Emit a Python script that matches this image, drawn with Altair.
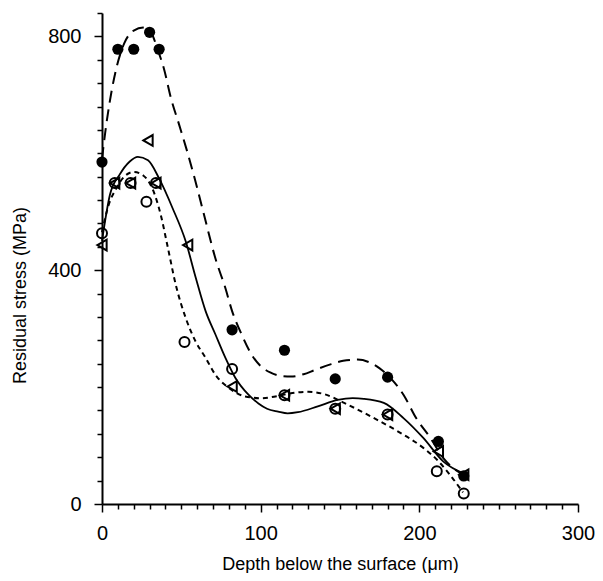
import altair as alt
import pandas as pd

# ---- measured points ----
fill_x = [0, 10, 20, 30, 36, 82, 115, 147, 180, 212, 228]
fill_y = [585, 778, 778, 807, 778, 298, 263, 214, 217, 107, 48]

tri_x = [0, 8, 18, 29, 34, 54, 82, 115, 147, 180, 212, 228]
tri_y = [443, 549, 549, 622, 549, 443, 201, 186, 163, 153, 90, 50]

open_x = [0, 8, 18, 28, 34, 52, 82, 115, 147, 180, 211, 228]
open_y = [463, 549, 549, 517, 549, 277, 231, 186, 163, 153, 56, 18]

# ---- fitted curves ----
long_x = [0, 2, 5, 9, 14, 20, 26, 31, 35, 39, 43.5, 48.6, 53.7, 59, 64, 71.5, 77.8, 82, 88, 94.4,
          100, 106, 113, 119, 127, 134, 143, 152, 161, 168, 175, 182, 190, 198, 207, 215, 222, 228]
long_y = [590, 635, 690, 745, 788, 810, 815, 806, 778, 745, 694, 649, 603, 551, 498, 420, 369, 330, 290, 255,
          236, 225, 219, 218, 222, 229, 238, 245, 247, 243, 232, 215, 187, 147, 113, 79, 60, 50]

solid_x = [0, 5, 11, 17.5, 22.6, 29, 36, 44.5, 52.8, 59, 65.3, 71.5, 77.8, 84, 92.3, 98.6, 104, 111, 117,
           123.5, 136, 148.5, 158, 165, 177.6, 190, 202.5, 215, 229]
solid_y = [450, 529, 563, 586, 594, 588, 557, 506, 449, 388, 330, 290, 250, 216, 187, 172, 163, 158, 155,
           157, 167, 178, 181, 180, 173, 147, 113, 73, 51]

short_x = [0, 4, 9, 14, 20, 26, 32, 37, 41.4, 46.5, 52.8, 59, 65.3, 71.5, 79.8, 90.3, 100, 113, 120, 130,
           140, 152.6, 169.3, 186, 202.5, 211, 219, 227.5]
short_y = [465, 510, 540, 560, 568, 562, 538, 495, 440, 375, 318, 278, 250, 221, 199, 184, 181, 186, 190, 192,
           188, 173, 150, 125, 96, 76, 51, 20]

x_ticks = list(range(0, 301, 10))
y_ticks = list(range(0, 841, 40))

FONT = "Liberation Sans"

x_axis = alt.Axis(
    values=x_ticks,
    labelExpr="datum.value % 100 === 0 ? datum.label : ''",
    tickSize={"condition": {"test": "datum.value % 100 === 0", "value": 8}, "value": 5},
    title="Depth below the surface (μm)",
    grid=False, labelFlush=False, labelOverlap=False,
    labelPadding=11, titleY=65, titleBaseline="alphabetic",
)
y_axis = alt.Axis(
    values=y_ticks,
    labelExpr="datum.value % 400 === 0 ? datum.label : ''",
    tickSize={"condition": {"test": "datum.value % 400 === 0", "value": 8}, "value": 5},
    title="Residual stress (MPa)",
    grid=False, labelOverlap=False,
    labelPadding=13, titleX=-82, titleY=282, titleBaseline="middle",
)

xs = alt.Scale(domain=[0, 300], nice=False, zero=False)
ys = alt.Scale(domain=[0, 840], nice=False, zero=False)


def enc(ch):
    return ch.encode(
        x=alt.X("x:Q", scale=xs, axis=x_axis),
        y=alt.Y("y:Q", scale=ys, axis=y_axis),
    )


def df(xv, yv):
    return pd.DataFrame({"x": xv, "y": yv})


long_line = enc(alt.Chart(df(long_x, long_y)).mark_line(
    color="black", strokeWidth=2, strokeDash=[12, 7], interpolate="monotone"))
solid_line = enc(alt.Chart(df(solid_x, solid_y)).mark_line(
    color="black", strokeWidth=1.8, interpolate="monotone"))
short_line = enc(alt.Chart(df(short_x, short_y)).mark_line(
    color="black", strokeWidth=2, strokeDash=[5, 4], interpolate="monotone"))

filled_pts = enc(alt.Chart(df(fill_x, fill_y)).mark_point(
    shape="circle", filled=True, color="black", size=125, opacity=1))
tri_pts = enc(alt.Chart(df(tri_x, tri_y)).mark_point(
    shape="triangle-left", filled=False, color="black", size=115, strokeWidth=2, opacity=1))
open_pts = enc(alt.Chart(df(open_x, open_y)).mark_point(
    shape="circle", filled=False, color="black", size=100, strokeWidth=2, opacity=1))

chart = alt.layer(long_line, solid_line, short_line, filled_pts, tri_pts, open_pts).properties(
    width=476, height=491,
    padding={"left": 94, "top": 5, "right": 17, "bottom": 69},
    autosize=alt.AutoSizeParams(type="none"),
).configure_view(stroke=None).configure_axis(
    domainColor="black", domainWidth=2, tickColor="black", tickWidth=1.5,
    labelFont=FONT, labelFontSize=20, labelColor="black",
    titleFont=FONT, titleFontSize=18, titleFontWeight="normal", titleColor="black",
)

chart.save("out.html", embed_options={"renderer": "svg", "actions": False})
